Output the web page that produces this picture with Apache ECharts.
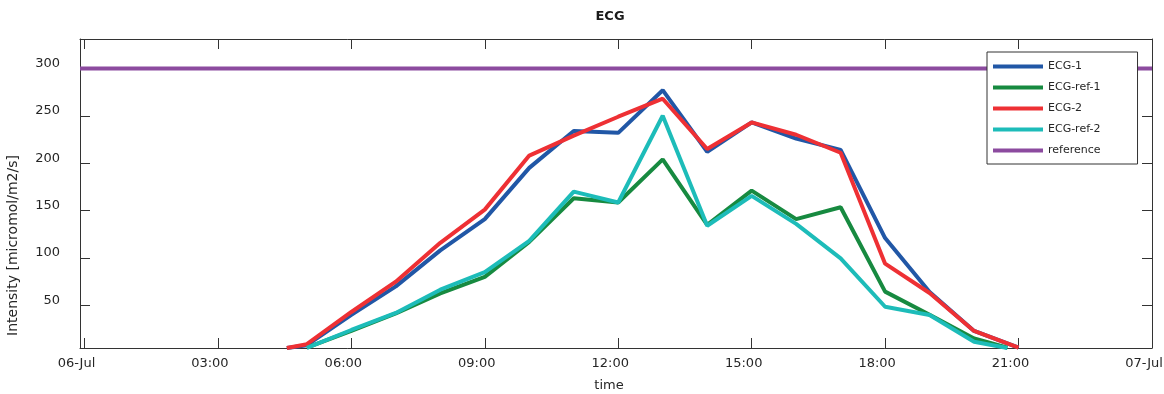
<!DOCTYPE html>
<html>
<head>
<meta charset="utf-8">
<title>ECG</title>
<script src="https://cdn.jsdelivr.net/npm/echarts@6/dist/echarts.min.js"></script>
<style>
  html, body { margin: 0; padding: 0; background: #ffffff; }
  #chart { width: 1164px; height: 394px; }
</style>
</head>
<body>
<div id="chart"></div>
<script>
// Measurement times (clock time on 06-Jul)
const timesLong = ['04:33', '05:00', '06:00', '07:00', '08:00', '09:00', '10:00', '11:00', '12:00',
                   '13:00', '14:00', '15:00', '16:00', '17:00', '18:00', '19:00', '20:00', '21:00'];
const timesRef = ['05:00', '06:00', '07:00', '08:00', '09:00', '10:00', '11:00', '12:00', '13:00',
                  '14:00', '15:00', '16:00', '17:00', '18:00', '19:00', '20:00', '20:45'];

// Light intensity, micromol/m2/s
const ecg1    = [5, 8, 40, 70, 108, 141, 195, 234, 232, 277, 212, 243, 226, 214, 121, 64, 23, 5.5];
const ecg2    = [5, 9, 43, 75, 116, 151, 208, 229, 249, 268, 215, 243, 230, 211, 94, 63, 23, 5.5];
const ecgRef1 = [5.5, 23, 41.5, 62.5, 80, 117, 163, 158.5, 204, 135, 171, 141, 153.5, 64.5, 40, 15, 5.3];
const ecgRef2 = [5.2, 24, 42, 66.5, 85, 118, 170, 158.5, 250, 134, 165.5, 136, 99.5, 48.5, 39.8, 11.6, 5];
const referenceLevel = 300;

// Axis extents and tick positions (hours since 06-Jul 00:00)
const xLimits = [-0.1, 24];
const yLimits = [5, 331];
const xTicks = [0, 3, 6, 9, 12, 15, 18, 21, 24];
const yTicks = [50, 100, 150, 200, 250, 300];

const seriesNames = ['ECG-1', 'ECG-ref-1', 'ECG-2', 'ECG-ref-2', 'reference'];
const seriesColors = ['#2157a6', '#178a40', '#ee3034', '#1dbcb9', '#8c4b9f'];

function toHours(t) {
  const [h, m] = t.split(':').map(Number);
  return h + m / 60;
}
function pairs(times, values) {
  return times.map((t, i) => [toHours(t), values[i]]);
}
function tickLabel(v) {
  if (v === 0) return '06-Jul';
  if (v === 24) return '07-Jul';
  return String(v).padStart(2, '0') + ':00';
}

const FONT = 'DejaVu Sans, Verdana, sans-serif';
const AXIS_COLOR = '#333333';
const TEXT_COLOR = '#262626';

const chart = echarts.init(document.getElementById('chart'), null, { renderer: 'canvas' });

const lineSeries = (name, data, idx) => ({
  name: name,
  type: 'line',
  data: data,
  showSymbol: false,
  symbol: 'none',
  clip: false,
  color: seriesColors[idx],
  lineStyle: { width: 4, color: seriesColors[idx] },
  itemStyle: { color: seriesColors[idx] },
  animation: false
});

chart.setOption({
  animation: false,
  backgroundColor: '#ffffff',
  textStyle: { fontFamily: FONT },
  title: {
    text: 'ECG',
    left: 610,
    textAlign: 'center',
    top: 10,
    padding: 0,
    textStyle: { fontFamily: FONT, fontSize: 13, fontWeight: 'bold', color: '#1a1a1a' }
  },
  grid: { left: 80, right: 12, top: 39, bottom: 46, containLabel: false, outerBoundsMode: 'none' },
  legend: {
    orient: 'vertical',
    left: 987,
    top: 52,
    icon: 'rect',
    itemWidth: 50,
    itemHeight: 4,
    itemGap: 0,
    itemTextGap: 5,
    padding: [4, 37, 3, 6],
    backgroundColor: '#ffffff',
    borderColor: '#333333',
    borderWidth: 1,
    data: seriesNames,
    textStyle: {
      fontFamily: FONT, fontSize: 11, color: TEXT_COLOR,
      lineHeight: 13, padding: [0, 0, 8, 0]
    }
  },
  xAxis: [
    {
      type: 'value',
      min: xLimits[0],
      max: xLimits[1],
      position: 'bottom',
      name: 'time',
      nameLocation: 'middle',
      nameGap: 31,
      nameTextStyle: { fontFamily: FONT, fontSize: 13, color: TEXT_COLOR, padding: [0, 14, 0, 0] },
      axisLine: { show: true, onZero: false, lineStyle: { color: AXIS_COLOR, width: 1 } },
      axisTick: { show: true, inside: true, length: 10, customValues: xTicks, lineStyle: { color: AXIS_COLOR } },
      axisLabel: {
        show: true, customValues: xTicks, margin: 9,
        fontFamily: FONT, fontSize: 13, color: TEXT_COLOR,
        padding: [0, 16, 0, 0],
        formatter: tickLabel
      },
      splitLine: { show: false }
    },
    {
      type: 'value',
      min: xLimits[0],
      max: xLimits[1],
      position: 'top',
      axisLine: { show: true, onZero: false, lineStyle: { color: AXIS_COLOR, width: 1 } },
      axisTick: { show: true, inside: true, length: 10, customValues: xTicks, lineStyle: { color: AXIS_COLOR } },
      axisLabel: { show: false },
      splitLine: { show: false }
    }
  ],
  yAxis: [
    {
      type: 'value',
      min: yLimits[0],
      max: yLimits[1],
      position: 'left',
      name: 'Intensity [micromol/m2/s]',
      nameLocation: 'middle',
      nameGap: 60,
      nameTextStyle: { fontFamily: FONT, fontSize: 14, color: TEXT_COLOR, padding: [0, 104, 0, 0] },
      axisLine: { show: true, onZero: false, lineStyle: { color: AXIS_COLOR, width: 1 } },
      axisTick: { show: true, inside: true, length: 10, customValues: yTicks, lineStyle: { color: AXIS_COLOR } },
      axisLabel: {
        show: true, customValues: yTicks, margin: 20,
        fontFamily: FONT, fontSize: 13, color: TEXT_COLOR,
        verticalAlign: 'bottom', lineHeight: 10
      },
      splitLine: { show: false }
    },
    {
      type: 'value',
      min: yLimits[0],
      max: yLimits[1],
      position: 'right',
      axisLine: { show: true, onZero: false, lineStyle: { color: AXIS_COLOR, width: 1 } },
      axisTick: { show: true, inside: true, length: 10, customValues: yTicks, lineStyle: { color: AXIS_COLOR } },
      axisLabel: { show: false },
      splitLine: { show: false }
    }
  ],
  series: [
    lineSeries('ECG-1', pairs(timesLong, ecg1), 0),
    lineSeries('ECG-ref-1', pairs(timesRef, ecgRef1), 1),
    lineSeries('ECG-2', pairs(timesLong, ecg2), 2),
    lineSeries('ECG-ref-2', pairs(timesRef, ecgRef2), 3),
    lineSeries('reference', xLimits.map(x => [x, referenceLevel]), 4)
  ]
});
</script>
</body>
</html>
